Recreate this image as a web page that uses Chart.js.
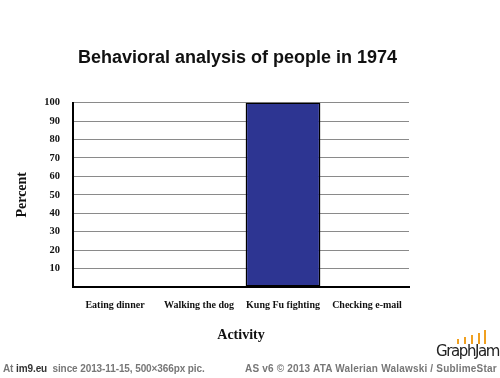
<!DOCTYPE html>
<html>
<head>
<meta charset="utf-8">
<script src="https://cdn.jsdelivr.net/npm/chart.js@4/dist/chart.umd.min.js"></script>
<style>
  html, body { margin: 0; padding: 0; background: #fff; width: 500px; height: 378px; overflow: hidden; }
  #wrap { position: absolute; left: 0; top: 0; width: 475px; height: 378px; }
  .foot { position: absolute; top: 363px; font: bold 10px "Liberation Sans", Arial, sans-serif; color: #777; white-space: nowrap; }
  .foot b { color: #333; }
  #logo { position: absolute; left: 436px; top: 326px; width: 64px; height: 36px; }
  #logo .txt { position: absolute; left: 0px; top: 16px; font: 15px "DejaVu Sans", sans-serif; color: #222; letter-spacing: -1.4px; }
  #logo i { position: absolute; width: 2px; background: #f0a020; }
</style>
</head>
<body>
<div id="wrap"><canvas id="c"></canvas></div>
<div class="foot" style="left:3px;letter-spacing:-0.1px">At <b>im9.eu</b>&nbsp; since 2013-11-15, 500×366px pic.</div>
<div class="foot" style="left:245px;letter-spacing:0.2px">AS v6 © 2013 ATA Walerian Walawski / SublimeStar</div>
<div id="logo">
  <i style="left:21px;top:13px;height:5px"></i>
  <i style="left:28px;top:11px;height:7px"></i>
  <i style="left:35px;top:9px;height:9px"></i>
  <i style="left:42px;top:7px;height:11px"></i>
  <i style="left:48px;top:4px;height:14px"></i>
  <span class="txt">GraphJam</span>
</div>
<script>
const categories = ["Eating dinner", "Walking the dog", "Kung Fu fighting", "Checking e-mail"];
const percentValues = [0, 0, 100, 0];
const yTicks = [10, 20, 30, 40, 50, 60, 70, 80, 90, 100];

const serif = "'Liberation Serif', 'Times New Roman', serif";

new Chart(document.getElementById('c'), {
  type: 'bar',
  data: {
    labels: categories,
    datasets: [{
      data: percentValues,
      backgroundColor: '#2d3592',
      borderColor: '#000',
      borderWidth: 1.5,
      borderSkipped: false,
      categoryPercentage: 1,
      barPercentage: 0.89
    }]
  },
  options: {
    responsive: true,
    maintainAspectRatio: false,
    animation: false,
    events: [],
    layout: { padding: { left: 0, right: 0, top: 0, bottom: 28 } },
    plugins: {
      legend: { display: false },
      tooltip: { enabled: false },
      title: {
        display: true,
        text: 'Behavioral analysis of people in 1974',
        color: '#111',
        font: { family: "'Liberation Sans', Arial, sans-serif", size: 18, weight: 'bold', lineHeight: 1.2 },
        padding: { top: 47, bottom: 34 }
      }
    },
    scales: {
      x: {
        grid: { display: false, drawTicks: false },
        border: { color: '#000', width: 2 },
        ticks: {
          color: '#111',
          padding: 12,
          maxRotation: 0,
          autoSkip: false,
          font: { family: serif, size: 10, weight: 'bold' }
        },
        title: {
          display: true,
          text: 'Activity',
          color: '#111',
          font: { family: serif, size: 14, weight: 'bold', lineHeight: 1.2 },
          padding: { top: 0, bottom: 6 }
        },
        afterFit: s => { s.height = 63; }
      },
      y: {
        min: 0,
        max: 100,
        afterBuildTicks: s => { s.ticks = [0].concat(yTicks).map(v => ({ value: v })); },
        grid: { color: '#8a8a8a', lineWidth: 1, drawTicks: false },
        border: { color: '#000', width: 2 },
        ticks: {
          color: '#111',
          padding: 13,
          font: { family: serif, size: 10.5, weight: 'bold' },
          callback: v => (v === 0 ? '' : String(v))
        },
        title: {
          display: true,
          text: 'Percent',
          color: '#111',
          font: { family: serif, size: 14, weight: 'bold', lineHeight: 1.2 },
          padding: { top: 14, bottom: 0 }
        },
        afterFit: s => { s.width = 73; }
      },
      yRight: {
        position: 'right',
        display: true,
        min: 0,
        max: 100,
        grid: { display: false, drawTicks: false },
        border: { display: false },
        ticks: { display: false },
        afterFit: s => { s.width = 66; }
      }
    }
  }
});
</script>
</body>
</html>
